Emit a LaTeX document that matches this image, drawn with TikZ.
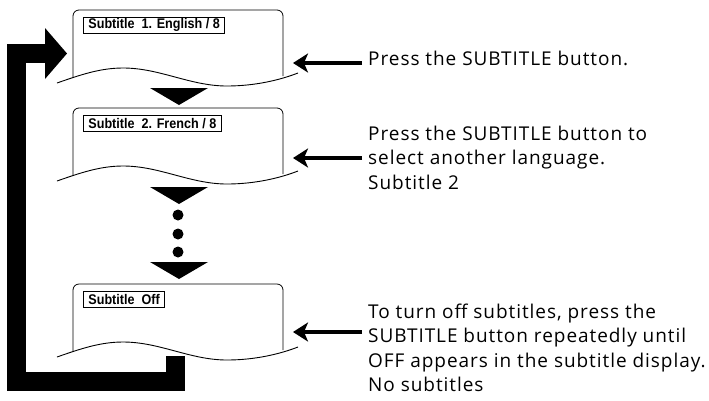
\documentclass[tikz,border=0pt]{standalone}
\usepackage{fontspec}
\setmainfont{Open Sans}
\newfontfamily\lcdfont[FakeStretch=0.9]{Liberation Sans}
\newfontfamily\notefont[LetterSpace=5]{Open Sans}
\usetikzlibrary{arrows.meta}
\begin{document}
\begin{tikzpicture}[x=1pt,y=-1pt,
        scr/.style={draw,line width=0.8pt,rounded corners=6pt},
        wave/.style={draw,line width=0.9pt},
        lbl/.style={draw,line width=0.8pt,anchor=north west,inner xsep=5pt,inner ysep=0pt,
            minimum height=16pt,font=\lcdfont\bfseries\fontsize{14}{14}\selectfont},
        note/.style={anchor=north west,inner sep=0pt,align=left,
            font=\notefont\fontsize{19}{24.4}\selectfont},
        ptr/.style={line width=4pt,-{Stealth[length=15pt,width=19pt,inset=4pt]}},
        loopbar/.style={line width=19pt,line join=miter}]
    \useasboundingbox (0,0) rectangle (709,400);
    % return loop from the last screen back to the first
    \coordinate (loopin) at (175.5,356);
    \coordinate (loopout) at (46,53.5);
    \draw[loopbar] (loopin) -- (175.5,381.5) -- (16,381.5) -- (16,53.5) -- (loopout);
    \fill (45,28) -- (67,53.5) -- (45,79) -- cycle;
    % screens
    \foreach \y/\n/\t in {10/1/{Subtitle\ \ 1. English / 8},108/2/{Subtitle\ \ 2. French / 8},284/3/{Subtitle\ \ Off}}{
        \draw[scr] (73,\y+67) -- (73,\y) -- (283,\y) -- (283,\y+66);
        \draw[wave] (57,\y+73) .. controls (80,\y+65) and (100,\y+58) .. (123,\y+58)
            .. controls (160,\y+58) and (190,\y+76) .. (227,\y+76)
            .. controls (255,\y+76) and (280,\y+70) .. (298,\y+63);
        \node[lbl] (l\n) at (83,\y+7) {\t};
    }
    % steps between screens
    \foreach \y in {88,187,262}
        \fill (150,\y) -- (208,\y) -- (179,\y+17) -- cycle;
    \foreach \y in {215,234,252}
        \fill (178,\y) circle (5.5pt);
    % notes
    \node[note] (n1) at (368,50.6) {Press the SUBTITLE button.};
    \node[note] (n2) at (368,125.6) {Press the SUBTITLE button to\\select another language.\\Subtitle 2};
    \node[note] (n3) at (368,303.6) {To turn off subtitles, press the\\SUBTITLE button repeatedly until\\OFF appears in the subtitle display.\\No subtitles};
    \coordinate (p1) at (293,63);
    \coordinate (p2) at (293,158);
    \coordinate (p3) at (293,332);
    \foreach \n in {1,2,3}
        \draw[ptr] ([xshift=-6pt]n\n.west |- p\n) -- (p\n);
\end{tikzpicture}
\end{document}
